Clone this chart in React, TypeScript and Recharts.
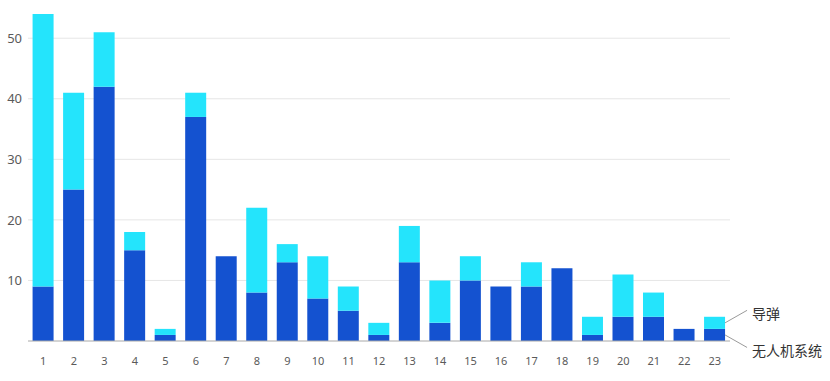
import React from 'react';
import { BarChart, Bar, XAxis, YAxis, CartesianGrid, LabelList } from 'recharts';

const categories = ['1','2','3','4','5','6','7','8','9','10','11','12','13','14','15','16','17','18','19','20','21','22','23'];
const uavValues = [9, 25, 42, 15, 1, 37, 14, 8, 13, 7, 5, 1, 13, 3, 10, 9, 9, 12, 1, 4, 4, 2, 2];
const missileValues = [45, 16, 9, 3, 1, 4, 0, 14, 3, 7, 4, 2, 6, 7, 4, 0, 4, 0, 3, 7, 4, 0, 2];
const yTicks = [0, 10, 20, 30, 40, 50];
const gridValues = [10, 20, 30, 40, 50];
const yMax = 54;
const seriesNames = { uav: '无人机系统', missile: '导弹' };

const lastIndex = categories.length - 1;
const data = categories.map((c, i) => ({
  name: c,
  uav: uavValues[i],
  missile: missileValues[i],
  uavLabel: i === lastIndex ? seriesNames.uav : '',
  missileLabel: i === lastIndex ? seriesNames.missile : '',
}));

const makeEndLabel = (dir: 1 | -1) => (props: any) => {
  const { x, y, width, height, value } = props;
  if (!value) return <g />;
  const x0 = Number(x) + Number(width);
  const y0 = Number(y) + Number(height) / 2;
  const x1 = x0 + 22;
  const y1 = y0 + dir * 12.5;
  return (
    <g>
      <line x1={x0} y1={y0} x2={x1} y2={y1} stroke="#9a9a9a" strokeWidth={1} />
      <text x={x1 + 5} y={y1 + 3.5} dy="0.35em" fontSize={14} fill="#333" fontFamily="'Noto Sans CJK SC', sans-serif">
        {value}
      </text>
    </g>
  );
};

const gridCoords = (p: any) => {
  const s = p && p.yAxis && p.yAxis.scale;
  if (typeof s === 'function') return gridValues.map((v) => s(v));
  if (s && typeof s.map === 'function') return gridValues.map((v) => s.map(v));
  const top = p.offset.top;
  const h = p.offset.height;
  return gridValues.map((v) => top + h * (1 - v / yMax));
};

export default function App() {
  return (
    <div style={{ position: 'absolute', left: 0, top: 0, background: '#fff' }}>
      <BarChart
        width={830}
        height={381}
        data={data}
        margin={{ top: 14, right: 100, left: 0, bottom: 10 }}
        barCategoryGap="15%"
      >
        <CartesianGrid vertical={false} stroke="#e6e6e6" horizontalCoordinatesGenerator={gridCoords} />
        <XAxis
          dataKey="name"
          tickLine={false}
          axisLine={{ stroke: '#a8a8a8' }}
          tickMargin={10}
          tick={{ fontSize: 11, fill: '#5a5a5a', fontFamily: "'Noto Sans', sans-serif" }}
          interval={0}
        />
        <YAxis
          width={28}
          domain={[0, yMax]}
          ticks={yTicks}
          axisLine={false}
          tickLine={false}
          tickMargin={0}
          tick={{ fontSize: 13, fill: '#5a5a5a', fontFamily: "'Noto Sans', sans-serif" }}
          tickFormatter={(v: number) => (v === 0 ? '' : String(v))}
        />
        <Bar dataKey="uav" stackId="a" fill="#1452D0" isAnimationActive={false} name={seriesNames.uav}>
          <LabelList dataKey="uavLabel" content={makeEndLabel(1)} />
        </Bar>
        <Bar dataKey="missile" stackId="a" fill="#24E4FC" isAnimationActive={false} name={seriesNames.missile}>
          <LabelList dataKey="missileLabel" content={makeEndLabel(-1)} />
        </Bar>
      </BarChart>
    </div>
  );
}
